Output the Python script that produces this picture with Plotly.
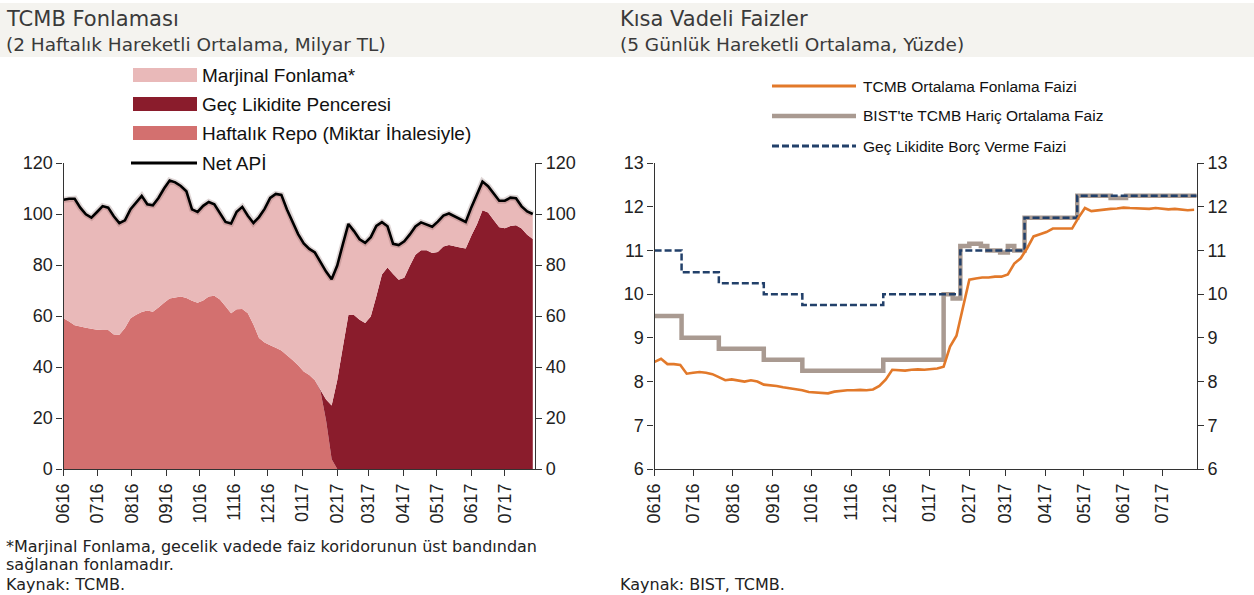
import pandas as pd
import plotly.graph_objects as go

W, H = 1254, 595

# ---------------- Left panel data (5-day grid from 2016-06-01) ----------------
left_dates = pd.date_range("2016-06-01", periods=85, freq="5D")

haftalik_repo = [
    59.1, 57.8, 56.4, 55.9, 55.4, 55.0, 54.6, 54.5, 54.5, 52.7,
    52.6, 55.3, 59.1, 60.5, 61.6, 62.2, 61.7, 63.3, 65.2, 66.9,
    67.3, 67.6, 67.1, 66.0, 65.2, 66.1, 67.6, 67.9, 66.5, 63.8,
    61.1, 62.6, 62.7, 61.1, 56.7, 51.4, 49.6, 48.5, 47.5, 46.5,
    44.6, 42.7, 40.7, 38.2, 36.9, 34.8, 30.5, 19.0, 3.8, 0.0,
    0, 0, 0, 0, 0, 0, 0, 0, 0, 0,
    0, 0, 0, 0, 0, 0, 0, 0, 0, 0,
    0, 0, 0, 0, 0, 0, 0, 0, 0, 0,
    0, 0, 0, 0, 0,
]

gec_likidite = [
    0, 0, 0, 0, 0, 0, 0, 0, 0, 0,
    0, 0, 0, 0, 0, 0, 0, 0, 0, 0,
    0, 0, 0, 0, 0, 0, 0, 0, 0, 0,
    0, 0, 0, 0, 0, 0, 0, 0, 0, 0,
    0, 0, 0, 0, 0, 0, 0.5, 8.3, 21.1, 34.8,
    47.7, 60.4, 60.4, 58.5, 57.3, 59.8, 67.7, 76.3, 79.0, 76.5,
    74.2, 75.0, 79.7, 84.0, 85.8, 85.8, 84.7, 85.1, 87.3, 87.8,
    87.4, 86.9, 86.5, 91.5, 95.9, 101.5, 100.6, 97.6, 94.8, 94.4,
    95.3, 95.6, 94.3, 91.9, 90.2,
]

marjinal_fonlama = [
    46.5, 48.2, 49.6, 46.6, 44.5, 43.6, 46.2, 48.6, 48.0, 46.4,
    43.8, 42.2, 42.8, 44.2, 45.5, 41.6, 41.7, 43.0, 44.8, 46.2,
    45.1, 43.4, 41.8, 35.8, 35.6, 37.1, 37.1, 35.9, 34.1, 33.1,
    35.2, 38.3, 40.1, 38.2, 39.8, 47.4, 52.4, 57.8, 60.4, 61.0,
    57.2, 54.3, 51.4, 50.3, 49.4, 50.1, 50.1, 50.1, 49.5, 45.0,
    40.4, 35.7, 32.9, 31.6, 31.4, 31.1, 27.6, 20.5, 16.2, 11.8,
    13.6, 14.3, 12.3, 11.1, 10.9, 10.2, 10.3, 11.9, 12.1, 12.4,
    11.7, 11.3, 10.4, 11.1, 11.8, 11.2, 10.3, 10.2, 10.4, 10.8,
    11.1, 10.6, 8.7, 9.1, 9.8,
]

net_api = [
    105.6, 106.0, 106.0, 102.5, 99.9, 98.6, 100.8, 103.1, 102.5, 99.1,
    96.4, 97.5, 101.9, 104.7, 107.1, 103.8, 103.4, 106.3, 110.0, 113.1,
    112.4, 111.0, 108.9, 101.8, 100.8, 103.2, 104.7, 103.8, 100.6, 96.9,
    96.3, 100.9, 102.8, 99.3, 96.5, 98.8, 102.0, 106.3, 107.9, 107.5,
    101.8, 97.0, 92.1, 88.5, 86.3, 84.9, 81.1, 77.4, 74.4, 79.8,
    88.1, 96.1, 93.3, 90.1, 88.7, 90.9, 95.3, 96.8, 95.2, 88.3,
    87.8, 89.3, 92.0, 95.1, 96.7, 96.0, 95.0, 97.0, 99.4, 100.2,
    99.1, 98.2, 96.9, 102.6, 107.7, 112.7, 110.9, 107.8, 105.2, 105.2,
    106.4, 106.2, 103.0, 101.0, 100.0,
]

# ---------------- Right panel data ----------------
right_dates = pd.date_range("2016-06-01", periods=85, freq="5D")
tcmb_ort_fonlama = [
    8.45, 8.52, 8.40, 8.40, 8.38, 8.18, 8.20, 8.22, 8.20, 8.17,
    8.10, 8.03, 8.05, 8.02, 8.00, 8.03, 8.00, 7.93, 7.92, 7.90,
    7.87, 7.85, 7.83, 7.80, 7.76, 7.75, 7.74, 7.73, 7.77, 7.79,
    7.80, 7.80, 7.81, 7.80, 7.82, 7.90, 8.05, 8.27, 8.26, 8.25,
    8.27, 8.28, 8.27, 8.28, 8.30, 8.34, 8.80, 9.05, 9.70, 10.33,
    10.36, 10.38, 10.38, 10.40, 10.40, 10.45, 10.70, 10.82, 11.05, 11.32,
    11.37, 11.42, 11.50, 11.50, 11.49, 11.50, 11.75, 11.97, 11.90, 11.92,
    11.93, 11.95, 11.96, 11.98, 11.97, 11.96, 11.96, 11.95, 11.97, 11.96,
    11.94, 11.95, 11.93, 11.92, 11.93,
]

bist_dates = [
    "2016-06-01", "2016-06-22", "2016-07-21", "2016-08-25", "2016-09-24",
    "2016-11-26", "2017-01-12", "2017-01-19", "2017-01-25", "2017-02-01",
    "2017-02-10", "2017-02-15", "2017-02-25", "2017-03-03", "2017-03-08",
    "2017-03-16", "2017-04-26", "2017-05-22", "2017-05-29", "2017-06-03",
    "2017-07-28",
]
bist_faiz = [
    9.5, 9.0, 8.75, 8.5, 8.25,
    8.5, 10.0, 9.9, 11.1, 11.15,
    11.1, 11.0, 10.95, 11.1, 11.0,
    11.75, 12.25, 12.2, 12.2, 12.25,
    12.25,
]

glp_dates = [
    "2016-06-01", "2016-06-22", "2016-07-21", "2016-08-25", "2016-09-24",
    "2016-11-26", "2017-01-25", "2017-03-16", "2017-04-26", "2017-07-28",
]
glp_borc_verme = [11.0, 10.5, 10.25, 10.0, 9.75, 10.0, 11.0, 11.75, 12.25, 12.25]

left_yticks = [0, 20, 40, 60, 80, 100, 120]
right_yticks = [6, 7, 8, 9, 10, 11, 12, 13]

# colours
C_MARJ = "#e9b9b9"
C_GLP = "#8a1c2c"
C_REPO = "#d3706f"
C_ORANGE = "#e2792a"
C_GRAY = "#a99a91"
C_NAVY = "#22406a"

ARIAL = "Liberation Sans, Arial, sans-serif"
AX_FONT = dict(family=ARIAL, size=18, color="#222")


def px(x):
    return x / W


def py(y):
    return 1 - y / H


fig = go.Figure()

# Left stacked areas
fig.add_trace(go.Scatter(x=left_dates, y=haftalik_repo, stackgroup="a", mode="none",
                         fillcolor=C_REPO, xaxis="x", yaxis="y", hoverinfo="skip"))
fig.add_trace(go.Scatter(x=left_dates, y=gec_likidite, stackgroup="a", mode="none",
                         fillcolor=C_GLP, xaxis="x", yaxis="y", hoverinfo="skip"))
fig.add_trace(go.Scatter(x=left_dates, y=marjinal_fonlama, stackgroup="a", mode="none",
                         fillcolor=C_MARJ, xaxis="x", yaxis="y", hoverinfo="skip"))
fig.add_trace(go.Scatter(x=left_dates, y=net_api, mode="lines",
                         line=dict(color="rgba(110,70,70,0.22)", width=6),
                         xaxis="x", yaxis="y", hoverinfo="skip"))
fig.add_trace(go.Scatter(x=left_dates, y=net_api, mode="lines",
                         line=dict(color="#000", width=2.6),
                         xaxis="x", yaxis="y"))
# invisible trace on left secondary axis
fig.add_trace(go.Scatter(x=left_dates[:1], y=[0], mode="markers", marker=dict(opacity=0),
                         xaxis="x", yaxis="y2", hoverinfo="skip"))

# Right lines
fig.add_trace(go.Scatter(x=bist_dates, y=bist_faiz, mode="lines", line_shape="hv",
                         line=dict(color=C_GRAY, width=4.5), xaxis="x2", yaxis="y3"))
fig.add_trace(go.Scatter(x=glp_dates, y=glp_borc_verme, mode="lines", line_shape="hv",
                         line=dict(color=C_NAVY, width=2.5, dash="7px,3px"), xaxis="x2", yaxis="y3"))
fig.add_trace(go.Scatter(x=right_dates, y=tcmb_ort_fonlama, mode="lines",
                         line=dict(color=C_ORANGE, width=2.6), xaxis="x2", yaxis="y3"))
fig.add_trace(go.Scatter(x=right_dates[:1], y=[6], mode="markers", marker=dict(opacity=0),
                         xaxis="x2", yaxis="y4", hoverinfo="skip"))

ydom = [py(469), py(163)]
xrange = ["2016-06-01", "2017-07-28"]

common_x = dict(type="date", range=xrange, tick0="2016-06-01", dtick="M1", tickformat="%m%y",
                tickangle=-90, ticks="outside", ticklen=6, tickwidth=1.2, tickcolor="#333",
                showline=True, linecolor="#333", linewidth=1.4, showgrid=False, zeroline=False,
                automargin=False, tickfont=dict(family=ARIAL, size=18, color="#222"))
common_y = dict(ticks="outside", ticklen=6, tickwidth=1.2, tickcolor="#333", showline=True,
                linecolor="#333", linewidth=1.4, showgrid=False, zeroline=False, tickfont=AX_FONT,
                automargin=False)

fig.update_layout(
    template="none",
    width=W, height=H, margin=dict(l=0, r=0, t=0, b=0, pad=0, autoexpand=False),
    paper_bgcolor="white", plot_bgcolor="rgba(0,0,0,0)", showlegend=False,
    xaxis=dict(domain=[px(63.5), px(535)], anchor="y", **common_x),
    yaxis=dict(domain=ydom, range=[0, 120], tickvals=left_yticks, anchor="x", **common_y),
    yaxis2=dict(range=[0, 120], tickvals=left_yticks, overlaying="y", side="right", anchor="x",
                **common_y),
    xaxis2=dict(domain=[px(654.6), px(1196.7)], anchor="y3", **common_x),
    yaxis3=dict(domain=ydom, range=[6, 13], tickvals=right_yticks, anchor="x2", **common_y),
    yaxis4=dict(range=[6, 13], tickvals=right_yticks, overlaying="y3", side="right", anchor="x2",
                **common_y),
)

shapes = []
annotations = []

# title band
shapes.append(dict(type="rect", xref="paper", yref="paper", x0=0, x1=1, y0=py(57), y1=py(3),
                   fillcolor="#f4f3ef", line=dict(width=0), layer="below"))

TITLE_FONT = "DejaVu Sans, sans-serif"


def text(x, y, s, size, color="#222", family=TITLE_FONT):
    annotations.append(dict(xref="paper", yref="paper", x=px(x), y=py(y), text=s, showarrow=False,
                            xanchor="left", yanchor="middle", borderpad=0,
                            font=dict(family=family, size=size, color=color)))


text(5, 19, "TCMB Fonlaması", 21, "#3a3a3a")
text(5, 45, "(2 Haftalık Hareketli Ortalama, Milyar TL)", 18.5, "#3a3a3a")
text(619, 19, "Kısa Vadeli Faizler", 21, "#3a3a3a")
text(619, 45, "(5 Günlük Hareketli Ortalama, Yüzde)", 18.5, "#3a3a3a")

# Left legend (manual)
left_leg = [("Marjinal Fonlama*", C_MARJ, 75), ("Geç Likidite Penceresi", C_GLP, 104),
            ("Haftalık Repo (Miktar İhalesiyle)", C_REPO, 133)]
for label, col, yy in left_leg:
    shapes.append(dict(type="rect", xref="paper", yref="paper", x0=px(133), x1=px(197),
                       y0=py(yy + 7), y1=py(yy - 7), fillcolor=col, line=dict(width=0)))
    text(201, yy, label, 19, "#111", ARIAL)
shapes.append(dict(type="line", xref="paper", yref="paper", x0=px(131), x1=px(197),
                   y0=py(163), y1=py(163), line=dict(color="#000", width=3)))
text(201, 163, "Net APİ", 19, "#111", ARIAL)

# Right legend (manual)
right_leg = [("TCMB Ortalama Fonlama Faizi", C_ORANGE, 86, "solid", 3),
             ("BIST'te TCMB Hariç Ortalama Faiz", C_GRAY, 116, "solid", 4.5),
             ("Geç Likidite Borç Verme Faizi", C_NAVY, 146, "7px,3px", 3)]
for label, col, yy, dash, w in right_leg:
    shapes.append(dict(type="line", xref="paper", yref="paper", x0=px(772), x1=px(856),
                       y0=py(yy), y1=py(yy), line=dict(color=col, width=w, dash=dash)))
    text(862, yy, label, 15.5, "#111", ARIAL)

# footnotes
text(5, 546, "*Marjinal Fonlama, gecelik vadede faiz koridorunun üst bandından", 16, "#222")
text(5, 564, "sağlanan fonlamadır.", 16, "#222")
text(5, 584, "Kaynak: TCMB.", 16, "#222")
text(619, 584, "Kaynak: BIST, TCMB.", 16, "#222")

fig.update_layout(shapes=shapes, annotations=annotations)

fig.write_html("out.html", config={"displayModeBar": False},
               post_script="document.body.style.margin='0px';")
